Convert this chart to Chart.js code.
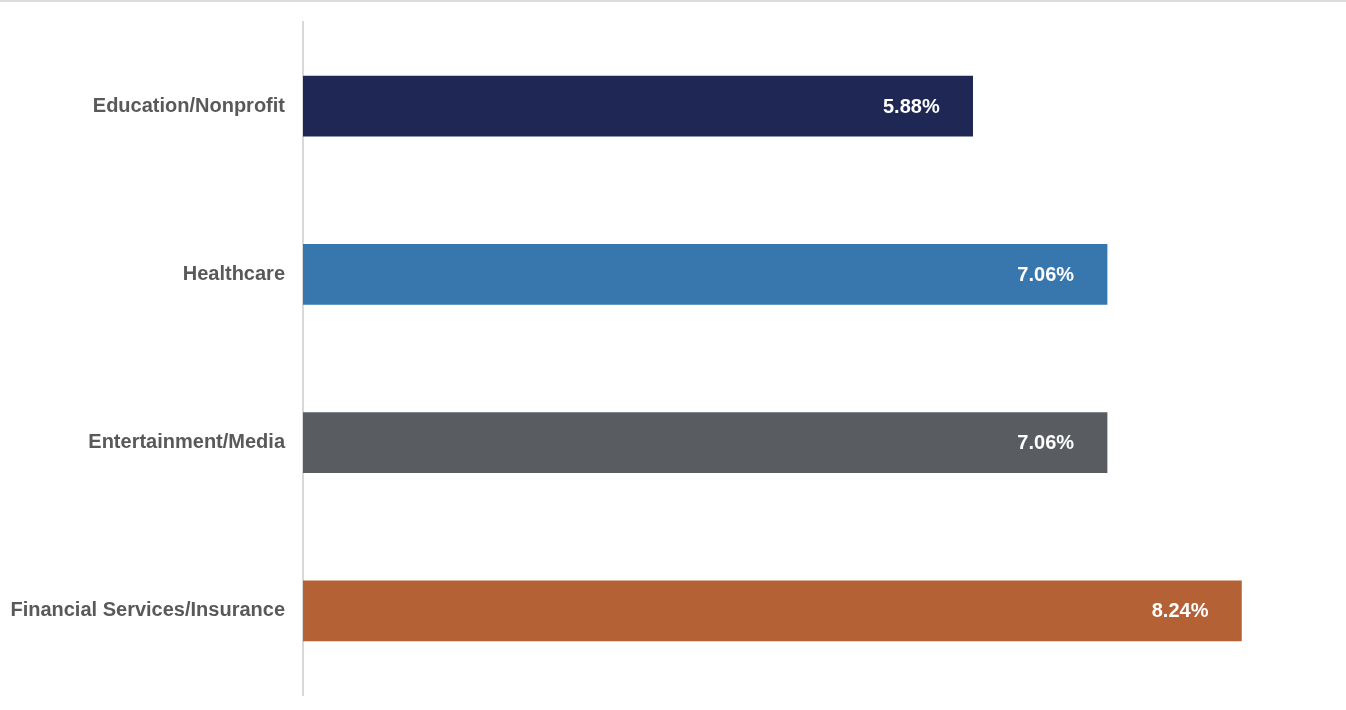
<!DOCTYPE html>
<html>
<head>
<meta charset="utf-8">
<script src="https://cdn.jsdelivr.net/npm/chart.js@4/dist/chart.umd.min.js"></script>
<style>
  html, body { margin: 0; padding: 0; background: #fff; }
  #wrap { position: relative; width: 1346px; height: 710px; border-top: 2px solid #dcdcdc; box-sizing: border-box; }
</style>
</head>
<body>
<div id="wrap"><canvas id="myChart" width="1346" height="708"></canvas></div>
<script>
const categories = ["Education/Nonprofit", "Healthcare", "Entertainment/Media", "Financial Services/Insurance"];
const values = [5.88, 7.06, 7.06, 8.24];
const barColors = ['#1f2855', '#3877ad', '#595c60', '#b46135'];

// labels inside the bars, near the right end
const valueLabels = {
  id: 'valueLabels',
  afterDatasetsDraw(chart) {
    const ctx = chart.ctx;
    const meta = chart.getDatasetMeta(0);
    ctx.save();
    ctx.fillStyle = '#ffffff';
    ctx.font = 'bold 20px "Liberation Sans", Arial, sans-serif';
    ctx.textAlign = 'right';
    ctx.textBaseline = 'middle';
    meta.data.forEach(function(bar, i) {
      ctx.fillText(values[i].toFixed(2) + '%', bar.x - 33, bar.y + 1);
    });
    ctx.restore();
  }
};

const ctx = document.getElementById('myChart').getContext('2d');
const myChart = new Chart(ctx, {
  type: 'bar',
  data: {
    labels: categories,
    datasets: [{
      data: values,
      backgroundColor: barColors,
      borderWidth: 0,
      barThickness: 60
    }]
  },
  options: {
    indexAxis: 'y',
    responsive: false,
    animation: false,
    layout: { padding: { top: 20, bottom: 15, right: 18 } },
    plugins: {
      legend: { display: false },
      tooltip: { enabled: false }
    },
    scales: {
      x: {
        display: false,
        min: 0,
        max: 9
      },
      y: {
        grid: { display: false, drawTicks: false },
        border: { display: true, color: '#d9d9d9', width: 2 },
        ticks: {
          color: '#595959',
          padding: 18,
          font: { family: '"Liberation Sans", Arial, sans-serif', size: 20, weight: 'bold' }
        },
        afterFit(scale) {
          scale.width = 303;
          scale.paddingTop = 0;
          scale.paddingBottom = 0;
        }
      }
    }
  },
  plugins: [valueLabels]
});
</script>
</body>
</html>
